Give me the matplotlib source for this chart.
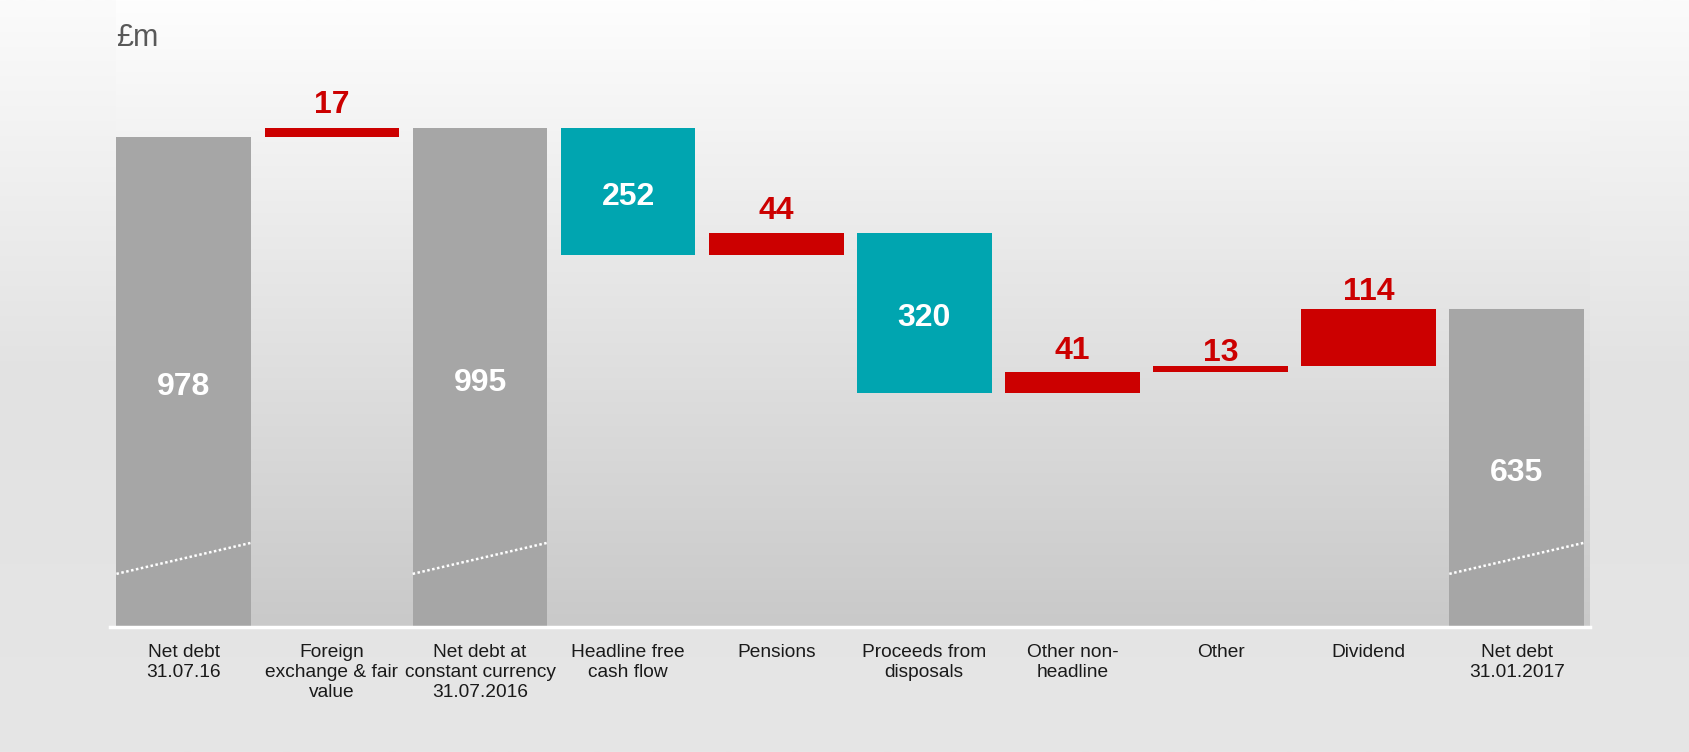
import matplotlib
matplotlib.use("Agg")
import matplotlib.pyplot as plt
import numpy as np
from matplotlib.colors import LinearSegmentedColormap

plt.rcParams['font.family'] = ['Liberation Sans', 'DejaVu Sans']

# ── data ─────────────────────────────────────────────
categories = ["Net debt\n31.07.16", "Foreign\nexchange & fair\nvalue",
              "Net debt at\nconstant currency\n31.07.2016", "Headline free\ncash flow",
              "Pensions", "Proceeds from\ndisposals", "Other non-\nheadline",
              "Other", "Dividend", "Net debt\n31.01.2017"]
values = [978, 17, 995, -252, 44, -320, 41, 13, 114, 635]
kinds = ["total", "step", "total", "step", "step", "step", "step", "step", "step", "total"]

# ── styles ───────────────────────────────────────────
c_total = "#a6a6a6"
c_up = "#cc0000"
c_down = "#00a5b0"
label_gap_pt = [0, 11, 0, 0, 10, 0, 10, 3.5, 6, 0]   # gap above red bars, points
val_fs = 23

# running totals -> bottoms / heights
bottoms, heights, colors = [], [], []
running = 0
for v, k in zip(values, kinds):
    if k == "total":
        bottoms.append(0); heights.append(v); colors.append(c_total)
        running = v
    elif v >= 0:
        bottoms.append(running); heights.append(v); colors.append(c_up)
        running += v
    else:
        running += v
        bottoms.append(running); heights.append(-v); colors.append(c_down)

W, H = 1690, 752
fig = plt.figure(figsize=(W / 100, H / 100), dpi=100)

# figure background gradient
bg = fig.add_axes([0, 0, 1, 1])
bg_cmap = LinearSegmentedColormap.from_list("bg", ["#fbfbfb", "#e2e2e2", "#e6e6e6"])
bg.imshow(np.linspace(0, 1, 256).reshape(-1, 1), cmap=bg_cmap, aspect="auto",
          extent=(0, 1, 0, 1), origin="upper")
bg.axis("off")

base_px = 627
ax = fig.add_axes([116 / W, (H - base_px) / H, (1590 - 116) / W, base_px / H])
xlim = (-0.458, 9.495)
ylim = (0, 1251)
ax.set_xlim(*xlim)
ax.set_ylim(*ylim)

# plot area gradient
pa_cmap = LinearSegmentedColormap.from_list("pa", ["#fefefe", "#c9c9c9"])
ax.imshow(np.linspace(0, 1, 256).reshape(-1, 1), cmap=pa_cmap, aspect="auto",
          extent=(xlim[0], xlim[1], ylim[0], ylim[1]), origin="upper", zorder=0)

x = np.arange(len(values))
bar_w = 0.91
ax.bar(x, heights, bar_w, bottom=bottoms, color=colors, zorder=2, linewidth=0)

# axis line
ax.plot([-0.5, 9.495], [0, 0], color="white", lw=2.5, clip_on=False, zorder=3)

# break marks on total bars
for i, k in enumerate(kinds):
    if k == "total":
        ax.plot([i - bar_w / 2, i + bar_w / 2], [106, 168], color="white", lw=1.8,
                linestyle=(0, (1, 1)), zorder=3)

# value labels
cap = 0.716 * val_fs
for i, (v, k) in enumerate(zip(values, kinds)):
    b, h = bottoms[i], heights[i]
    if k == "total" or v < 0:
        ax.annotate(f"{abs(v)}", (i, b + h / 2), xytext=(0, -cap / 2 - 1.5),
                    textcoords="offset points", ha="center", va="baseline", color="white",
                    fontsize=val_fs, fontweight="bold", zorder=4)
    else:
        ax.annotate(f"{v}", (i, b + h), xytext=(0, label_gap_pt[i]), textcoords="offset points",
                    ha="center", va="baseline", color=c_up, fontsize=val_fs, fontweight="bold",
                    zorder=4)

ax.set_xticks(x)
ax.set_xticklabels(categories, fontsize=13.8, color="#1a1a1a")
for lbl in ax.get_xticklabels():
    lbl.set_linespacing(1.22)
ax.tick_params(axis="x", length=0, pad=12.5)
ax.set_yticks([])
for s in ax.spines.values():
    s.set_visible(False)

fig.text(116 / W, 1 - 38 / H, "£m", fontsize=22, color="#595959", ha="left", va="center")

plt.savefig("out.png", dpi=100)
plt.close()
